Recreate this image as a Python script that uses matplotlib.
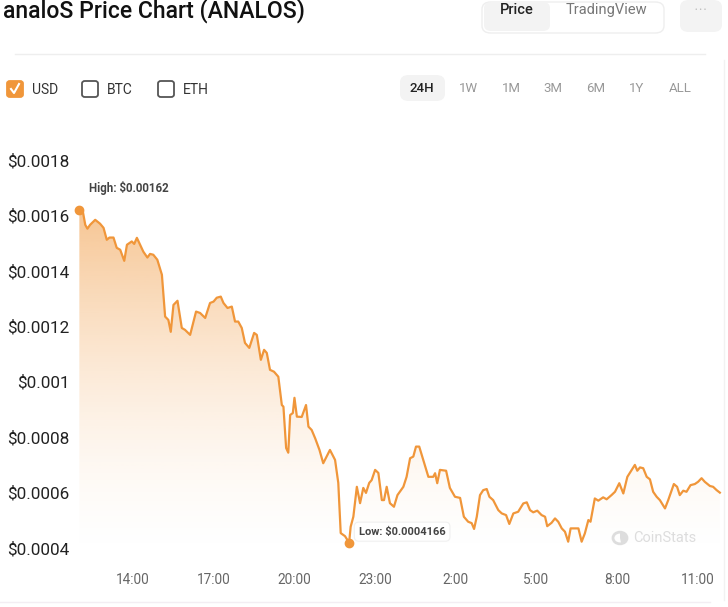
import numpy as np
import matplotlib
matplotlib.use("Agg")
import matplotlib.pyplot as plt
from matplotlib.patches import FancyBboxPatch, Circle, Wedge
from matplotlib.lines import Line2D

plt.rcParams['font.family'] = ['Roboto', 'DejaVu Sans']

# hours since midnight of day one (values above 24 are the next day)
hours = [12.00, 12.13, 12.22, 12.30, 12.40, 12.59, 12.77, 12.90, 13.02, 13.12,
         13.27, 13.39, 13.52, 13.67, 13.77, 13.95, 14.04, 14.14, 14.26, 14.38,
         14.53, 14.63, 14.75, 14.90, 15.07, 15.19, 15.31, 15.40, 15.50, 15.65,
         15.81, 15.93, 16.12, 16.34, 16.49, 16.68, 16.86, 16.99, 17.11, 17.26,
         17.36, 17.51, 17.67, 17.79, 17.91, 18.04, 18.16, 18.32, 18.50, 18.60,
         18.75, 18.87, 18.97, 19.09, 19.24, 19.40, 19.53, 19.59, 19.69, 19.77,
         19.84, 19.94, 20.00, 20.09, 20.27, 20.43, 20.52, 20.64, 20.77, 20.93,
         21.07, 21.32, 21.51, 21.63, 21.72, 21.88, 21.97, 22.03, 22.09, 22.19,
         22.32, 22.44, 22.56, 22.66, 22.78, 22.87, 23.00, 23.12, 23.25, 23.33,
         23.43, 23.55, 23.70, 23.83, 24.05, 24.17, 24.30, 24.42, 24.52, 24.64,
         24.79, 24.98, 25.16, 25.23, 25.31, 25.41, 25.64, 25.78, 25.97, 26.16,
         26.30, 26.46, 26.59, 26.68, 26.78, 26.90, 27.02, 27.15, 27.25, 27.39,
         27.58, 27.71, 27.87, 27.99, 28.14, 28.32, 28.51, 28.64, 28.76, 28.88,
         29.03, 29.19, 29.32, 29.40, 29.56, 29.69, 29.81, 29.94, 30.06, 30.18,
         30.27, 30.43, 30.56, 30.68, 30.80, 30.93, 31.01, 31.17, 31.30, 31.48,
         31.61, 31.79, 31.92, 32.08, 32.23, 32.38, 32.54, 32.66, 32.75, 32.85,
         32.97, 33.10, 33.22, 33.34, 33.47, 33.59, 33.78, 33.90, 34.03, 34.11,
         34.23, 34.33, 34.46, 34.58, 34.73, 34.89, 35.01, 35.14, 35.26, 35.45,
         35.57, 35.70, 35.82]

prices = [0.001620, 0.001614, 0.001566, 0.001552, 0.001566, 0.001584, 0.001570, 0.001555, 0.001512, 0.001520,
          0.001520, 0.001483, 0.001476, 0.001436, 0.001494, 0.001506, 0.001497, 0.001519, 0.001494, 0.001469,
          0.001448, 0.001461, 0.001458, 0.001440, 0.001386, 0.001235, 0.001223, 0.001180, 0.001277, 0.001292,
          0.001194, 0.001187, 0.001169, 0.001253, 0.001248, 0.001230, 0.001284, 0.001289, 0.001303, 0.001307,
          0.001284, 0.001266, 0.001271, 0.001217, 0.001217, 0.001194, 0.001140, 0.001122, 0.001176, 0.001169,
          0.001079, 0.001115, 0.001104, 0.001043, 0.001036, 0.001018, 0.000916, 0.000910, 0.000761, 0.000744,
          0.000880, 0.000887, 0.000942, 0.000874, 0.000873, 0.000916, 0.000838, 0.000826, 0.000796, 0.000754,
          0.000706, 0.000754, 0.000718, 0.000635, 0.000454, 0.000443, 0.000429, 0.0004166, 0.000477, 0.000513,
          0.000621, 0.000562, 0.000617, 0.000599, 0.000635, 0.000645, 0.000682, 0.000671, 0.000573, 0.000573,
          0.000621, 0.000562, 0.000549, 0.000591, 0.000621, 0.000657, 0.000724, 0.000730, 0.000766, 0.000766,
          0.000718, 0.000657, 0.000657, 0.000670, 0.000634, 0.000682, 0.000679, 0.000617, 0.000585, 0.000581,
          0.000513, 0.000495, 0.000490, 0.000469, 0.000513, 0.000591, 0.000609, 0.000613, 0.000585, 0.000573,
          0.000537, 0.000525, 0.000519, 0.000487, 0.000525, 0.000531, 0.000561, 0.000565, 0.000537, 0.000529,
          0.000535, 0.000519, 0.000513, 0.000479, 0.000491, 0.000507, 0.000495, 0.000471, 0.000459, 0.000423,
          0.000471, 0.000471, 0.000471, 0.000423, 0.000453, 0.000501, 0.000495, 0.000579, 0.000571, 0.000583,
          0.000576, 0.000591, 0.000603, 0.000634, 0.000597, 0.000657, 0.000682, 0.000700, 0.000679, 0.000691,
          0.000688, 0.000657, 0.000648, 0.000603, 0.000585, 0.000573, 0.000543, 0.000573, 0.000609, 0.000631,
          0.000621, 0.000591, 0.000607, 0.000603, 0.000627, 0.000631, 0.000639, 0.000652, 0.000639, 0.000624,
          0.000621, 0.000609, 0.000600]

x_ticks = [14, 17, 20, 23, 26, 29, 32, 35]
x_labels = ['14:00', '17:00', '20:00', '23:00', '2:00', '5:00', '8:00', '11:00']
y_ticks = [0.0004, 0.0006, 0.0008, 0.0010, 0.0012, 0.0014, 0.0016, 0.0018]
y_labels = ['$0.0004', '$0.0006', '$0.0008', '$0.001', '$0.0012', '$0.0014', '$0.0016', '$0.0018']

currencies = ['USD', 'BTC', 'ETH']
ranges = ['24H', '1W', '1M', '3M', '6M', '1Y', 'ALL']

ORANGE = '#F0963A'
W, H = 728, 607


def fx(px):
    return px / W


def fy(py):
    return 1 - py / H


fig = plt.figure(figsize=(W / 100, H / 100), dpi=100)
fig.patch.set_facecolor('white')

# header
fig.text(fx(3), fy(11), 'analoS Price Chart (ANALOS)', fontsize=16.6, fontweight='medium',
         color='#111111', va='center', ha='left')

fig.patches.append(FancyBboxPatch((fx(482), fy(33)), fx(182), 31 / H,
                                  boxstyle='round,pad=0,rounding_size=0.012',
                                  transform=fig.transFigure, fc='white', ec='#eeeeee', lw=1))
fig.patches.append(FancyBboxPatch((fx(484), fy(31)), fx(66), 29 / H,
                                  boxstyle='round,pad=0,rounding_size=0.01',
                                  transform=fig.transFigure, fc='#f3f3f3', ec='none'))
fig.text(fx(517), fy(10), 'Price', fontsize=10.5, fontweight='medium', color='#222222', ha='center', va='center')
fig.text(fx(606), fy(10), 'TradingView', fontsize=10.5, color='#777777', ha='center', va='center')
fig.patches.append(FancyBboxPatch((fx(680), fy(32)), fx(42), 32 / H,
                                  boxstyle='round,pad=0,rounding_size=0.012',
                                  transform=fig.transFigure, fc='#f3f3f3', ec='none'))
fig.text(fx(701), fy(10), '• • •', fontsize=5.5, color='#bbbbbb', ha='center', va='center')

fig.add_artist(Line2D([fx(15), fx(705)], [fy(54), fy(54)], transform=fig.transFigure,
                      color='#eeeeee', lw=1))

# currency checkboxes
box_x = [7, 82, 158]
for i, (name, bx) in enumerate(zip(currencies, box_x)):
    checked = i == 0
    fig.patches.append(FancyBboxPatch((fx(bx), fy(97)), fx(16), 16 / H,
                                      boxstyle='round,pad=0,rounding_size=0.004',
                                      transform=fig.transFigure,
                                      fc=ORANGE if checked else 'white',
                                      ec=ORANGE if checked else '#555555', lw=1.3))
    if checked:
        fig.add_artist(Line2D([fx(bx + 4), fx(bx + 7), fx(bx + 12)],
                              [fy(89), fy(93), fy(84)], transform=fig.transFigure,
                              color='white', lw=1.5))
    fig.text(fx(bx + 25), fy(89.5), name, fontsize=10, color='#333333', ha='left', va='center')

# time range buttons
range_x = [422, 468, 511, 553, 596, 637, 680]
fig.patches.append(FancyBboxPatch((fx(400), fy(101)), fx(45), 26 / H,
                                  boxstyle='round,pad=0,rounding_size=0.012',
                                  transform=fig.transFigure, fc='#f3f3f3', ec='none'))
for i, (name, rx) in enumerate(zip(ranges, range_x)):
    fig.text(fx(rx), fy(88), name, fontsize=9.5,
             fontweight='medium' if i == 0 else 'normal',
             color='#222222' if i == 0 else '#999999', ha='center', va='center')

# chart
ax = fig.add_axes([fx(78), fy(560), fx(722) - fx(78), (560 - 120) / H])
ymin, ymax = 0.000357, 0.001944
ax.set_xlim(11.95, 35.9)
ax.set_ylim(ymin, ymax)

hx = np.array(hours)
py = np.array(prices)

fill = ax.fill_between(hx, py, ymin, color='none', lw=0)
grad = np.linspace(0, 1, 256).reshape(-1, 1)
rgba = np.zeros((256, 1, 4))
rgba[..., 0] = 0xF0 / 255
rgba[..., 1] = 0x96 / 255
rgba[..., 2] = 0x3A / 255
rgba[..., 3] = 0.55 * grad ** 1.6
img = ax.imshow(rgba, aspect='auto', origin='lower',
                extent=[hx[0], hx[-1], ymin, max(prices)], zorder=1)
img.set_clip_path(fill.get_paths()[0], transform=ax.transData)

ax.plot(hx, py, color=ORANGE, lw=1.6, zorder=3, solid_joinstyle='round')

hi = int(np.argmax(py))
lo = int(np.argmin(py))
ax.plot(hx[hi], py[hi], 'o', color=ORANGE, ms=6, zorder=4, clip_on=False)
ax.plot(hx[lo], py[lo], 'o', color=ORANGE, ms=6, zorder=4, clip_on=False)
ax.annotate(f'High: ${prices[hi]:g}', (hx[hi], py[hi]), xytext=(7, 16), textcoords='offset points',
            fontsize=8.3, fontweight='bold', color='#444444', ha='left', va='center', zorder=5,
            bbox=dict(boxstyle='round,pad=0.35', fc='white', ec='none', alpha=0.85))
ax.annotate(f'Low: ${prices[lo]:.7f}', (hx[lo], py[lo]), xytext=(7, 8.5), textcoords='offset points',
            fontsize=8, fontweight='bold', color='#444444', ha='left', va='center', zorder=5,
            bbox=dict(boxstyle='round,pad=0.4', fc='white', ec='#f0f0f0', lw=0.8))

ax.set_xticks(x_ticks)
ax.set_xticklabels(x_labels)
ax.set_yticks(y_ticks)
ax.set_yticklabels(y_labels)
ax.tick_params(axis='y', length=0, pad=6, labelsize=12.3, labelcolor='#222222')
ax.tick_params(axis='x', length=0, pad=9, labelsize=9.8, labelcolor='#666666')
for s in ax.spines.values():
    s.set_visible(False)

# watermark
fig.patches.append(Circle((fx(620), fy(538)), 7 / W, transform=fig.transFigure,
                          fc='none', ec='#dddddd', lw=2))
fig.patches.append(Wedge((fx(620), fy(538)), 7 / W, -80, 90, transform=fig.transFigure,
                         fc='#dddddd', ec='none'))
fig.text(fx(633), fy(538), 'CoinStats', fontsize=10.5, color='#dddddd', ha='left', va='center')

fig.add_artist(Line2D([fx(0), fx(710)], [fy(602), fy(602)], transform=fig.transFigure,
                      color='#f3eef3', lw=1))
fig.add_artist(Line2D([fx(724), fx(724)], [fy(60), fy(600)], transform=fig.transFigure,
                      color='#f2f2f2', lw=1))

fig.savefig('out.png', dpi=100, facecolor='white')
